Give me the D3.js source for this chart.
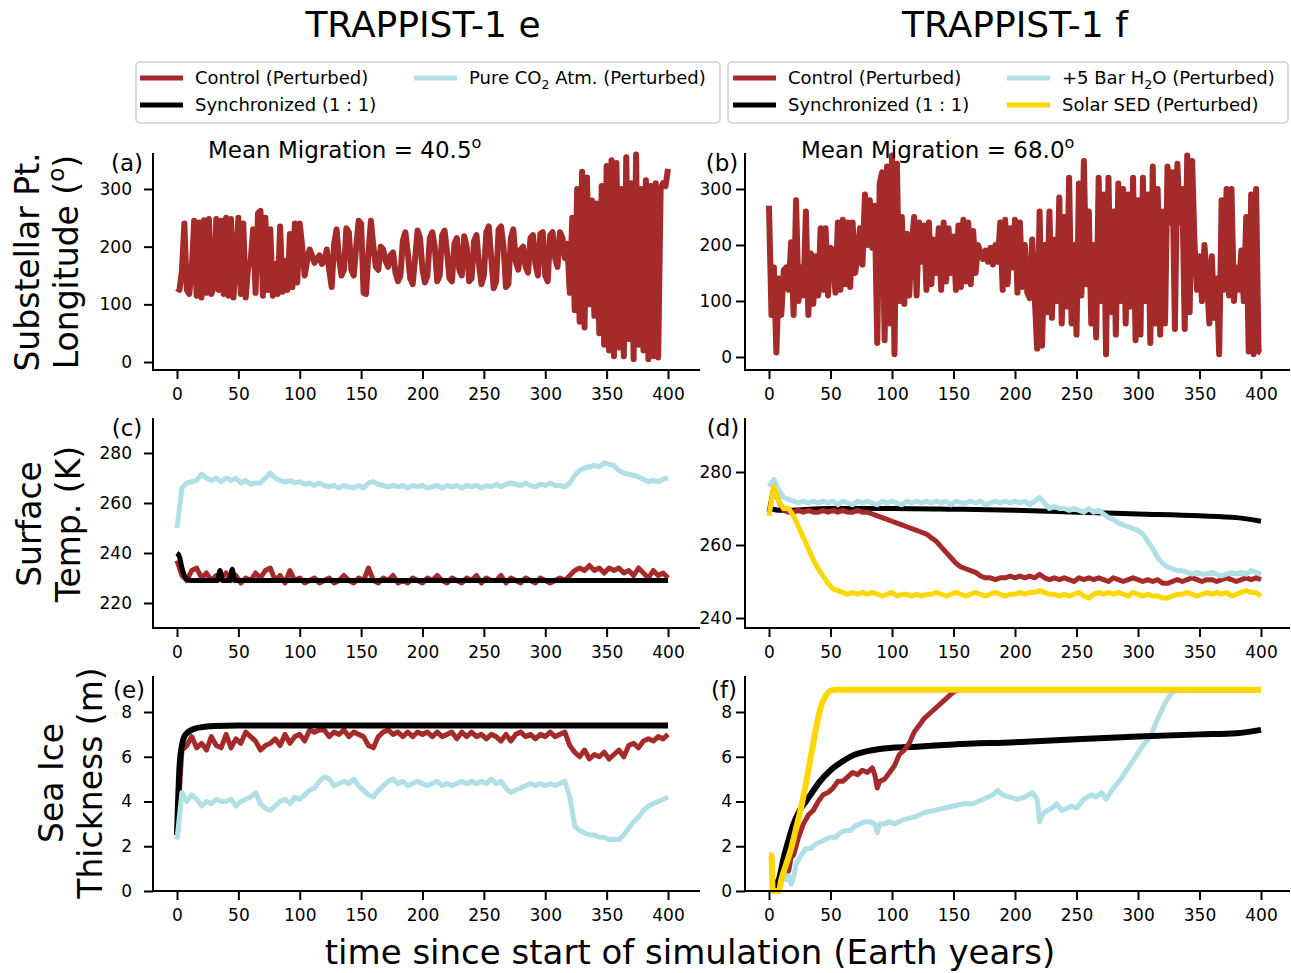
<!DOCTYPE html>
<html>
<head>
<meta charset="utf-8">
<script src="https://cdn.jsdelivr.net/npm/d3@7"></script>
<style>
body { margin: 0; background: #fff; }
text { font-family: "DejaVu Sans", sans-serif; fill: #000; }
</style>
</head>
<body>
<script>
// ---- data ----
var xTicks = [0, 50, 100, 150, 200, 250, 300, 350, 400];
var lonTicks = [0, 100, 200, 300];
var tempTicksE = [220, 240, 260, 280];
var tempTicksF = [240, 260, 280];
var iceTicks = [0, 2, 4, 6, 8];

var colorControl = "#a52a2a", colorSync = "#000000",
    colorWet = "#b0e0e6", colorSolar = "#ffd700";

// substellar longitude, 2-year steps, 0..400
var lonStep = 2;
var lonControlE = [
  128, 125, 158, 240, 125, 118, 160, 245, 115, 242,
  112, 246, 120, 248, 118, 130, 248, 125, 245, 118,
  250, 115, 248, 112, 170, 250, 118, 240, 112, 165,
  175, 230, 120, 258, 262, 115, 250, 125, 230, 115,
  170, 118, 235, 122, 175, 125, 222, 130, 240, 138,
  240, 200, 150, 175, 195, 185, 172, 178, 185, 170,
  175, 195, 160, 130, 205, 230, 180, 150, 160, 232,
  225, 160, 150, 200, 245, 240, 120, 118, 190, 245,
  200, 165, 160, 200, 195, 175, 165, 185, 190, 155,
  140, 150, 210, 225, 190, 145, 135, 180, 228, 215,
  160, 138, 150, 215, 225, 200, 140, 150, 220, 228,
  190, 145, 140, 205, 215, 160, 150, 218, 200, 140,
  145, 210, 220, 170, 135, 150, 225, 235, 180, 128,
  140, 230, 235, 200, 130, 135, 215, 230, 175, 160,
  195, 200, 165, 155, 215, 220, 170, 150, 222, 225,
  150, 140, 220, 225, 180, 165, 225, 215, 180, 205,
  120, 250, 90, 300, 70, 330, 60, 320, 100, 280,
  80, 275, 50, 305, 30, 340, 20, 350, 10, 345,
  25, 300, 10, 355, 40, 310, 5, 360, 30, 300,
  20, 315, 5, 305, 10, 310, 8, 300, 310, 305,
  335];
var lonControlF = [
  270, 75, 160, 8, 140, 75, 155, 160, 120, 205,
  75, 280, 100, 160, 110, 260, 75, 185, 95, 180,
  110, 230, 120, 230, 110, 195, 190, 115, 240, 120,
  245, 130, 240, 125, 240, 150, 180, 230, 165, 290,
  200, 280, 195, 270, 25, 310, 330, 30, 340, 60,
  360, 5, 345, 100, 250, 95, 220, 110, 200, 250,
  110, 240, 170, 235, 120, 240, 130, 210, 150, 230,
  120, 240, 135, 230, 150, 215, 120, 235, 125, 245,
  135, 240, 130, 225, 150, 200, 185, 175, 190, 170,
  195, 165, 200, 170, 240, 120, 245, 130, 230, 160,
  245, 115, 240, 125, 200, 115, 105, 210, 110, 15,
  260, 20, 200, 80, 260, 70, 210, 100, 285, 60,
  250, 90, 320, 60, 200, 40, 310, 110, 350, 130,
  260, 60, 200, 35, 320, 100, 290, 5, 320, 80,
  260, 40, 310, 100, 300, 60, 290, 90, 320, 30,
  280, 40, 320, 100, 290, 25, 340, 60, 300, 40,
  260, 60, 340, 240, 330, 50, 345, 240, 300, 50,
  360, 80, 350, 200, 120, 180, 100, 200, 140, 60,
  180, 70, 140, 5, 280, 120, 300, 110, 300, 100,
  160, 120, 190, 100, 250, 10, 290, 5, 300, 10,
  8];

// surface temperature, 4-year steps, 0..400
var tempStep = 4;
var tempControlE = [
  237, 231, 229, 233, 234, 230, 232, 229, 231, 230,
  232, 229, 231, 228, 230, 229, 232, 230, 233, 234,
  229, 231, 228, 233, 229, 230, 228, 229, 230, 228,
  229, 230, 228, 229, 231, 229, 228, 230, 229, 234,
  229, 228, 230, 229, 231, 228, 229, 228, 230, 229,
  228, 230, 229, 231, 229, 228, 230, 229, 228, 230,
  229, 231, 228, 230, 229, 229, 231, 228, 230, 229,
  228, 230, 229, 228, 230, 229, 228, 229, 230, 229,
  231, 233, 234, 233, 235, 233, 234, 232, 234, 233,
  234, 232, 233, 231, 234, 232, 230, 233, 231, 232,
  230];
var tempCO2E = [
  250, 266, 268, 268.5, 269, 271.5, 270, 269, 270, 268.5,
  270, 269, 270, 268, 269, 267.5, 268, 268, 270, 272,
  270, 269, 268.5, 269, 268, 268.5, 267.5, 268, 267, 268,
  267, 266.5, 267, 266, 267, 266.5, 266, 267, 266, 268,
  268.5, 267.5, 267, 266.5, 267, 266.5, 267, 266, 267, 266.5,
  267, 266, 266.5, 267, 266, 267, 266.5, 267, 266, 267,
  266.5, 267, 266, 267, 266.5, 267.5, 266.5, 267.5, 268, 267.5,
  267, 268, 267, 266.5, 267.5, 267, 268, 267, 267, 266.5,
  268, 271, 273, 274, 274.5, 275, 274.5, 276, 275.5, 275,
  273, 272, 271.5, 271, 270.5, 269.5, 268.5, 269, 268.5, 269.5,
  270];
var tempSyncEx = [0, 2, 4, 6, 8, 12, 30, 33, 35, 37, 40, 43, 45, 47, 50, 400];
var tempSyncE  = [240, 238.5, 234, 231, 229.5, 229, 229, 229, 233, 229, 229, 229, 233.5, 229, 229, 229];

var tempControlF = [
  269, 276, 272, 269.5, 269, 269, 269.5, 269, 269.5, 269,
  269, 269.5, 269, 269.5, 269, 269.5, 269, 269, 269.5, 269,
  269, 268.5, 268, 267.5, 267, 266.5, 266, 265.5, 265, 264.5,
  264, 263.5, 263, 262, 261, 259.5, 258, 256.5, 255, 254,
  253.5, 253, 252.5, 251.5, 251, 251, 250.5, 251, 251, 251.5,
  251, 251.5, 251, 251.5, 251, 252, 251, 250.5, 251, 250.5,
  251, 250.5, 250, 251, 250.5, 251, 250.5, 251, 250.5, 250,
  251, 250.5, 250, 250.5, 251, 250.5, 250, 250.5, 250, 250.5,
  249.5, 249.5, 250, 250.5, 250, 250.5, 251, 250.5, 250, 250.5,
  250.5, 250, 250.5, 251, 250.5, 250, 250.5, 251, 250.5, 251,
  250.5];
var tempWetF = [
  276, 278, 275, 273, 272.5, 272, 271.5, 272, 271.5, 272,
  271.5, 272, 271.5, 272, 271, 272, 271.5, 271, 272, 271.5,
  272, 271.5, 271, 272, 271.5, 272, 271.5, 271, 272, 271.5,
  272, 271.5, 272, 271.5, 272, 271.5, 272, 271, 272, 271.5,
  271.5, 272, 271.5, 272, 271, 271.5, 272, 271.5, 272, 271.5,
  272, 271.5, 272, 271, 272, 273, 271.5, 270, 270.5, 270,
  270, 269.5, 270, 269.5, 269, 270, 269, 269.5, 268.5, 267.5,
  267, 266, 265.5, 265, 264.5, 264, 263, 261, 259, 256.5,
  255, 254, 253.5, 253, 253, 252.5, 252, 252.5, 252, 252,
  252.5, 252, 251.5, 252, 252.5, 252, 252.5, 252, 253, 252.5,
  252];
var tempSolarF = [
  268, 276, 272, 270, 270, 268, 265, 262, 259, 256,
  253.5, 251.5, 249.5, 248, 247.5, 247, 246.5, 247, 246.5, 247,
  246.5, 247, 246.5, 246, 246.5, 247, 246, 246.5, 246.5, 246,
  246.5, 246, 246.5, 246.5, 247, 246.5, 246, 246.5, 247, 246.5,
  246, 246.5, 247, 246.5, 246, 246.5, 247, 246.5, 246, 246.5,
  246.5, 247, 246.5, 247, 247, 247.5, 247, 246.5, 246.5, 246,
  246.5, 246, 246.5, 247, 246, 245.5, 246.5, 247, 246.5, 247,
  246.5, 247, 246.5, 246, 247, 246.5, 246, 246.5, 246, 246,
  245.5, 245.5, 246, 246.5, 246.5, 247, 246.5, 246, 246.5, 247,
  246.5, 247, 246.5, 247, 246, 246.5, 247, 247.5, 247, 247,
  246];
var tempSyncFx = [0, 10, 50, 100, 150, 200, 220, 250, 300, 350, 380, 400];
var tempSyncF  = [270, 269.5, 270, 270, 269.8, 269.5, 269.3, 269, 268.5, 268, 267.5, 266.5];

// sea ice thickness
var iceStep = 4;
var iceControlE = [
  2.7, 6.3, 6.5, 6.9, 6.4, 6.6, 6.3, 6.9, 6.5, 6.4,
  7.0, 6.4, 6.8, 6.6, 7.1, 6.9, 6.7, 6.3, 6.5, 6.6,
  6.8, 6.5, 7.0, 6.6, 6.9, 7.0, 6.7, 7.2, 7.1, 7.2,
  7.2, 6.9, 7.1, 7.0, 7.2, 6.9, 7.1, 7.0, 6.9, 6.5,
  6.4, 6.9, 7.1, 7.2, 7.0, 7.1, 6.9, 7.1, 6.9, 7.1,
  7.0, 7.1, 6.9, 7.1, 6.9, 7.0, 7.1, 6.8, 7.1, 6.9,
  7.1, 6.9, 7.0, 6.8, 7.0, 6.9, 6.7, 7.0, 6.7, 7.0,
  7.1, 6.9, 7.0, 6.8, 7.0, 6.9, 7.1, 6.9, 7.0, 7.1,
  6.5, 6.2, 6.0, 6.3, 5.9, 6.1, 6.0, 6.2, 5.9, 6.1,
  6.3, 6.0, 6.5, 6.6, 6.4, 6.7, 6.8, 6.7, 6.9, 6.8,
  7.0];
var iceCO2E = [
  2.3, 4.4, 4.0, 4.3, 4.1, 3.8, 4.0, 3.9, 4.1, 4.0,
  4.0, 4.1, 3.8, 4.0, 4.1, 4.2, 4.4, 3.9, 3.7, 3.6,
  3.8, 4.0, 4.1, 3.9, 4.2, 4.1, 4.3, 4.5, 4.6, 4.9,
  5.1, 5.0, 4.7, 4.8, 4.9, 4.8, 5.0, 4.7, 4.5, 4.3,
  4.2, 4.5, 4.7, 4.9, 5.0, 4.8, 4.9, 4.7, 4.8, 4.9,
  4.8, 4.7, 4.8, 4.9, 4.7, 4.8, 4.7, 4.8, 4.9, 4.8,
  4.9, 4.8, 4.9, 4.8, 5.0, 4.8, 4.9, 4.6, 4.4, 4.5,
  4.6, 4.7, 4.8, 4.7, 4.8, 4.7, 4.8, 4.7, 4.8, 4.9,
  4.2, 2.9, 2.7, 2.6, 2.5, 2.5, 2.4, 2.4, 2.3, 2.3,
  2.3, 2.5, 2.8, 3.1, 3.3, 3.6, 3.8, 3.9, 4.0, 4.1,
  4.2];
var iceSyncEx = [0, 2, 4, 6, 8, 12, 16, 20, 30, 50, 400];
var iceSyncE  = [2.5, 5.5, 6.5, 6.9, 7.05, 7.2, 7.28, 7.32, 7.37, 7.4, 7.4];

var iceSolarFx = [0, 2, 3, 8, 10, 14, 18, 22, 26, 30, 34, 38, 42, 46, 50, 55, 400];
var iceSolarF  = [1.6, 1.6, 0, 0, 0.5, 1.2, 1.9, 2.8, 3.7, 4.8, 6.0, 7.2, 8.2, 8.7, 8.95, 9.0, 9.0];
var iceSyncFx = [3, 5, 8, 12, 16, 20, 25, 30, 35, 40, 50, 60, 70, 80, 90, 100, 120, 150, 200, 250, 300, 350, 380, 400];
var iceSyncF  = [0.5, 0.1, 0.5, 1.5, 2.3, 3.0, 3.6, 4.0, 4.4, 4.8, 5.4, 5.8, 6.1, 6.25, 6.35, 6.4, 6.45, 6.55, 6.65, 6.78, 6.9, 7.0, 7.05, 7.2];
var iceControlFx = [12, 14, 16, 18, 20, 24, 28, 32, 36, 40, 44, 48, 52, 56, 60,
  64, 68, 72, 76, 80, 84, 86, 88, 90, 94, 98, 102, 106, 110, 114, 118, 122, 126, 130,
  134, 138, 142, 146, 150, 154, 158, 162, 400];
var iceControlF  = [0.8, 1.2, 0.9, 1.5, 1.6, 2.4, 3.0, 3.4, 3.6, 4.0, 4.3, 4.4, 4.6, 4.9, 4.9,
  5.1, 5.3, 5.2, 5.4, 5.3, 5.5, 5.2, 4.6, 4.9, 5.0, 5.3, 5.6, 6.1, 6.3, 6.6, 7.1, 7.4, 7.7, 7.9,
  8.1, 8.3, 8.5, 8.7, 8.9, 9.0, 9.0, 9.0, 9.0];
var iceWetFx = [12, 14, 16, 18, 20, 22, 26, 30, 34, 38, 42, 46, 50, 54, 58, 62, 66, 70, 74, 78, 82, 86,
  88, 90, 94, 98, 102, 110, 118, 126, 134, 142, 150, 158, 166, 174, 182,
  186, 190, 196, 202, 208, 214, 218, 220, 222, 226, 230, 234, 238, 242, 246, 250, 256, 262, 266, 270, 274,
  280, 286, 292, 298, 304, 310, 316, 322, 328, 332, 400];
var iceWetF  = [0.8, 0.5, 0.7, 0.3, 0.6, 1.2, 1.6, 1.9, 1.9, 2.1, 2.2, 2.3, 2.4, 2.4, 2.6, 2.7, 2.7, 2.9, 3.0, 3.1, 3.1, 3.0,
  2.6, 3.0, 3.0, 3.1, 3.0, 3.2, 3.3, 3.5, 3.6, 3.7, 3.8, 3.9, 3.9, 4.1, 4.3,
  4.5, 4.3, 4.2, 4.1, 4.2, 4.4, 4.1, 3.1, 3.4, 3.6, 3.7, 3.9, 3.6, 3.7, 3.8, 3.7, 4.1, 4.3, 4.2, 4.4, 4.1,
  4.6, 5.0, 5.5, 6.0, 6.5, 6.9, 7.7, 8.4, 8.9, 9.0, 9.0];

// ---- helpers ----
function stepSeries(vals, step) {
  return vals.map(function(v, i) { return [i * step, v]; });
}
function pairSeries(xs, ys) {
  return d3.zip(xs, ys);
}

// text with _{sub} and ^{sup} pieces
function richText(sel, str, size) {
  var parts = str.split(/(_\{[^}]*\}|\^\{[^}]*\})/);
  var shift = 0;
  parts.forEach(function(p) {
    if (!p) return;
    var t = sel.append("tspan");
    var s = 0;
    if (p[0] == "_") {
      s = size * 0.25;
      t.text(p.slice(2, -1)).style("font-size", (size * 0.7) + "px");
    } else if (p[0] == "^") {
      s = -size * 0.42;
      t.text(p.slice(2, -1)).style("font-size", (size * 0.7) + "px");
    } else {
      t.text(p);
    }
    t.attr("dy", (s - shift) + "px");
    shift = s;
  });
}

var svg = d3.select("body").append("svg")
    .attr("width", 1291)
    .attr("height", 973);

// column / row geometry
var cols = [
  {spine: 153, x0: 177, x1: 668, end: 700, gap: 12},
  {spine: 745, x0: 769, x1: 1261, end: 1290, gap: 4}
];
var rows = [
  {top: 153, bottom: 370},
  {top: 418, bottom: 628},
  {top: 676, bottom: 891}
];

function drawPanel(col, row, yDomain, yRange, yTicks, series, label, labelX, labelY) {
  var c = cols[col], r = rows[row];
  var x = d3.scaleLinear().domain([0, 400]).range([c.x0, c.x1]);
  var y = d3.scaleLinear().domain(yDomain).range(yRange);
  var g = svg.append("g");

  var line = d3.line()
      .x(function(d) { return x(d[0]); })
      .y(function(d) { return y(d[1]); });

  series.forEach(function(s) {
    g.append("path")
      .datum(s.data)
      .attr("fill", "none")
      .attr("stroke", s.color)
      .attr("stroke-width", s.width)
      .attr("stroke-linejoin", "round")
      .attr("d", line.curve(s.smooth ? d3.curveMonotoneX : d3.curveLinear));
  });

  // axes
  var yAxis = g.append("g")
      .attr("transform", "translate(" + c.spine + ",0)")
      .call(d3.axisLeft(y).tickValues(yTicks).tickSize(9).tickPadding(c.gap)
        .tickFormat(d3.format("d")));
  var xAxis = g.append("g")
      .attr("transform", "translate(0," + r.bottom + ")")
      .call(d3.axisBottom(x).tickValues(xTicks).tickSize(9).tickPadding(9));
  [yAxis, xAxis].forEach(function(a) {
    a.select(".domain").remove();
    a.selectAll("line").attr("stroke", "#000").attr("stroke-width", 2);
    a.selectAll("text")
      .style("font-family", "'DejaVu Sans', sans-serif")
      .style("font-size", "17px")
      .attr("fill", "#000");
  });

  g.append("line")
    .attr("x1", c.spine).attr("x2", c.spine)
    .attr("y1", r.top).attr("y2", r.bottom + 1)
    .attr("stroke", "#000").attr("stroke-width", 2);
  g.append("line")
    .attr("x1", c.spine - 1).attr("x2", c.end)
    .attr("y1", r.bottom).attr("y2", r.bottom)
    .attr("stroke", "#000").attr("stroke-width", 2);

  g.append("text")
    .attr("x", labelX).attr("y", labelY)
    .attr("text-anchor", "middle")
    .style("font-size", "23px")
    .text(label);
}

// ---- panels ----
drawPanel(0, 0, [0, 300], [362, 189], lonTicks, [
  {data: stepSeries(lonControlE, lonStep), color: colorControl, width: 6}
], "(a)", 127, 171);

drawPanel(1, 0, [0, 300], [357, 189], lonTicks, [
  {data: stepSeries(lonControlF, lonStep), color: colorControl, width: 6}
], "(b)", 722, 171);

drawPanel(0, 1, [220, 280], [603, 453], tempTicksE, [
  {data: stepSeries(tempControlE, tempStep), color: colorControl, width: 5},
  {data: pairSeries(tempSyncEx, tempSyncE), color: colorSync, width: 5, smooth: true},
  {data: stepSeries(tempCO2E, tempStep), color: colorWet, width: 5}
], "(c)", 127, 436);

drawPanel(1, 1, [240, 280], [618, 472], tempTicksF, [
  {data: pairSeries(tempSyncFx, tempSyncF), color: colorSync, width: 5, smooth: true},
  {data: stepSeries(tempControlF, tempStep), color: colorControl, width: 5},
  {data: stepSeries(tempWetF, tempStep), color: colorWet, width: 5},
  {data: stepSeries(tempSolarF, tempStep), color: colorSolar, width: 5}
], "(d)", 723, 436);

drawPanel(0, 2, [0, 8], [891, 712], iceTicks, [
  {data: stepSeries(iceControlE, iceStep), color: colorControl, width: 5},
  {data: pairSeries(iceSyncEx, iceSyncE), color: colorSync, width: 6, smooth: true},
  {data: stepSeries(iceCO2E, iceStep), color: colorWet, width: 5}
], "(e)", 129, 698);

drawPanel(1, 2, [0, 8], [891, 712], iceTicks, [
  {data: pairSeries(iceWetFx, iceWetF), color: colorWet, width: 5},
  {data: pairSeries(iceSyncFx, iceSyncF), color: colorSync, width: 6, smooth: true},
  {data: pairSeries(iceControlFx, iceControlF), color: colorControl, width: 5},
  {data: pairSeries(iceSolarFx, iceSolarF), color: colorSolar, width: 6, smooth: true}
], "(f)", 724, 698);

// ---- titles, annotations ----
svg.append("text").attr("x", 423).attr("y", 37).attr("text-anchor", "middle")
  .style("font-size", "36px").text("TRAPPIST-1 e");
svg.append("text").attr("x", 1015).attr("y", 37).attr("text-anchor", "middle")
  .style("font-size", "36px").text("TRAPPIST-1 f");

richText(svg.append("text").attr("x", 208).attr("y", 158).style("font-size", "23px"),
  "Mean Migration = 40.5^{o}", 23);
richText(svg.append("text").attr("x", 801).attr("y", 158).style("font-size", "23px"),
  "Mean Migration = 68.0^{o}", 23);

svg.append("text").attr("x", 690).attr("y", 964).attr("text-anchor", "middle")
  .style("font-size", "34px").text("time since start of simulation (Earth years)");

// y labels, two lines each
var yLabels = [
  {lines: ["Substellar Pt.", "Longitude (^{o})"], x: [39, 78], y: 262},
  {lines: ["Surface", "Temp. (K)"], x: [41, 80], y: 524},
  {lines: ["Sea Ice", "Thickness (m)"], x: [63, 102], y: 783}
];
yLabels.forEach(function(l) {
  l.lines.forEach(function(s, i) {
    var t = svg.append("text")
      .attr("transform", "translate(" + l.x[i] + "," + l.y + ") rotate(-90)")
      .attr("text-anchor", "middle")
      .style("font-size", "33px");
    richText(t, s, 33);
  });
});

// ---- legends ----
var legendE = [
  {label: "Control (Perturbed)", color: colorControl, col: 0, row: 0},
  {label: "Synchronized (1 : 1)", color: colorSync, col: 0, row: 1},
  {label: "Pure CO_{2} Atm. (Perturbed)", color: colorWet, col: 1, row: 0}
];
var legendF = [
  {label: "Control (Perturbed)", color: colorControl, col: 0, row: 0},
  {label: "Synchronized (1 : 1)", color: colorSync, col: 0, row: 1},
  {label: "+5 Bar H_{2}O (Perturbed)", color: colorWet, col: 1, row: 0},
  {label: "Solar SED (Perturbed)", color: colorSolar, col: 1, row: 1}
];

function drawLegend(x0, x1, colX, items) {
  var g = svg.append("g");
  g.append("rect")
    .attr("x", x0).attr("y", 62)
    .attr("width", x1 - x0).attr("height", 61)
    .attr("rx", 4)
    .attr("fill", "#fff")
    .attr("stroke", "#d0d0d0")
    .attr("stroke-width", 1.5);
  items.forEach(function(d) {
    var cy = 78 + d.row * 27;
    var hx = colX[d.col];
    g.append("line")
      .attr("x1", hx).attr("x2", hx + 43)
      .attr("y1", cy).attr("y2", cy)
      .attr("stroke", d.color)
      .attr("stroke-width", 5);
    var t = g.append("text")
      .attr("x", hx + 55).attr("y", cy + 6)
      .style("font-size", "18px");
    richText(t, d.label, 18);
  });
}
drawLegend(136, 720, [140, 414], legendE);
drawLegend(728, 1288, [733, 1007], legendF);
</script>
</body>
</html>
